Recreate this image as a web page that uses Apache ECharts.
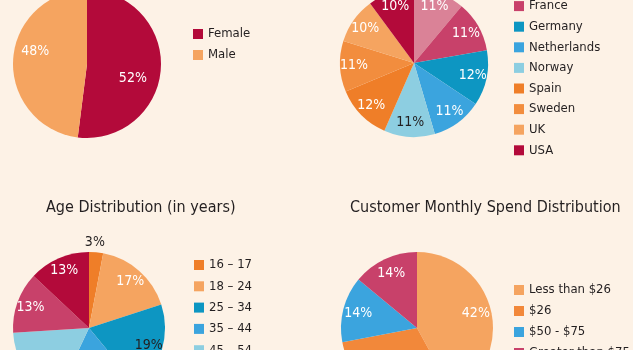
<!DOCTYPE html>
<html><head><meta charset="utf-8">
<script src="https://cdn.jsdelivr.net/npm/echarts@6/dist/echarts.min.js"></script>
<style>html,body{margin:0;padding:0;background:#fdf2e6;}#c{width:633px;height:350px;}</style>
</head><body><div id="c"></div>
<script>
// ---- data ----
const genderNames = ['Female', 'Male'];
const genderValues = [52, 48];
const countryNames = ['Denmark', 'France', 'Germany', 'Netherlands', 'Norway', 'Spain', 'Sweden', 'UK', 'USA'];
const countryValues = [11, 11, 12, 11, 11, 12, 11, 10, 10];
const ageNames = ['16 – 17', '18 – 24', '25 – 34', '35 – 44', '45 – 54', '55 – 64', '65+'];
const ageValues = [3, 17, 19, 18, 17, 13, 13];
const spendNames = ['Less than $26', '$26', '$50 - $75', 'Greater than $75'];
const spendValues = [42, 30, 14, 14];
const chartTitles = ['Age Distribution (in years)', 'Customer Monthly Spend Distribution'];

// ---- styles ----
const FONT = "'DejaVu Sans Condensed','Liberation Sans Narrow',sans-serif";
const DARK = '#231f20';
const C = {
  crimson: '#b30a3a', lightOrange: '#f5a460', orange: '#ef7e28', midOrange: '#f28d3e',
  teal: '#0d96c2', blue: '#3ba4de', lightBlue: '#8dcee1', pink: '#c8416a', lightPink: '#da8297'
};
const genderColors = [C.crimson, C.lightOrange];
const countryColors = [C.lightPink, C.pink, C.teal, C.blue, C.lightBlue, C.orange, C.midOrange, C.lightOrange, C.crimson];
const ageColors = [C.orange, C.lightOrange, C.teal, C.blue, C.lightBlue, C.pink, C.crimson];
const spendColors = [C.lightOrange, '#f2883a', C.blue, C.pink];

// per-chart label tweaks keyed by category (style only)
const labelTweaks = {
  gender: { 'Female': { offset: [-14, 11] }, 'Male': { offset: [8, -9] } },
  country: { 'Norway': { color: DARK } },
  age: { '16 – 17': { offset: [0, -24], color: DARK }, '25 – 34': { color: DARK } },
  spend: {}
};

function pieSeries(key, names, values, colors, center, r, innerRatio) {
  const tweaks = labelTweaks[key];
  const main = {
    type: 'pie', center: center, radius: r, startAngle: 90, clockwise: true,
    label: { show: false }, labelLine: { show: false }, silent: true,
    emphasis: { disabled: true },
    data: names.map((n, i) => ({ name: n, value: values[i], itemStyle: { color: colors[i] } }))
  };
  const overlay = {
    type: 'pie', center: center, radius: [r * innerRatio, r], startAngle: 90, clockwise: true,
    silent: true, emphasis: { disabled: true }, avoidLabelOverlap: false,
    labelLine: { show: false },
    label: { show: true, position: 'inside', formatter: '{c}%', color: '#fff', fontSize: 14, fontFamily: FONT },
    data: names.map((n, i) => {
      const t = tweaks[n] || {};
      const lab = {};
      if (t.offset) lab.offset = t.offset;
      if (t.color) lab.color = t.color;
      return { name: n, value: values[i], itemStyle: { color: 'rgba(0,0,0,0)' }, label: lab };
    })
  };
  return [main, overlay];
}

function legendOf(names, colors, left, top, gap) {
  return {
    orient: 'vertical', left: left, top: top, height: 400, padding: 0, itemGap: gap,
    itemWidth: 10, itemHeight: 10, icon: 'rect', selectedMode: false,
    textStyle: { fontSize: 13, lineHeight: 15, fontFamily: FONT, color: DARK },
    data: names.map((n, i) => ({ name: n, itemStyle: { color: colors[i] } }))
  };
}

const titleStyle = { fontSize: 16, fontWeight: 'normal', fontFamily: FONT, color: DARK };

const chart = echarts.init(document.getElementById('c'), null, { renderer: 'canvas' });
chart.setOption({
  backgroundColor: '#fdf2e6',
  animation: false,
  title: [
    { text: chartTitles[0], left: 46, top: 200, padding: 0, textStyle: titleStyle },
    { text: chartTitles[1], left: 350, top: 200, padding: 0, textStyle: titleStyle }
  ],
  legend: [
    legendOf(genderNames, genderColors, 193, 26.5, 6),
    legendOf(countryNames, countryColors, 514, -22, 5.6),
    legendOf(ageNames, ageColors, 194, 257.5, 6.3),
    legendOf(spendNames, spendColors, 514, 282.5, 6)
  ],
  series: [].concat(
    pieSeries('gender', genderNames, genderValues, genderColors, [87, 64], 74, 0.54),
    pieSeries('country', countryNames, countryValues, countryColors, [414, 63], 74, 0.54),
    pieSeries('age', ageNames, ageValues, ageColors, [89, 328], 76, 0.56),
    pieSeries('spend', spendNames, spendValues, spendColors, [417, 328], 76, 0.52)
  )
});
</script>
</body></html>
